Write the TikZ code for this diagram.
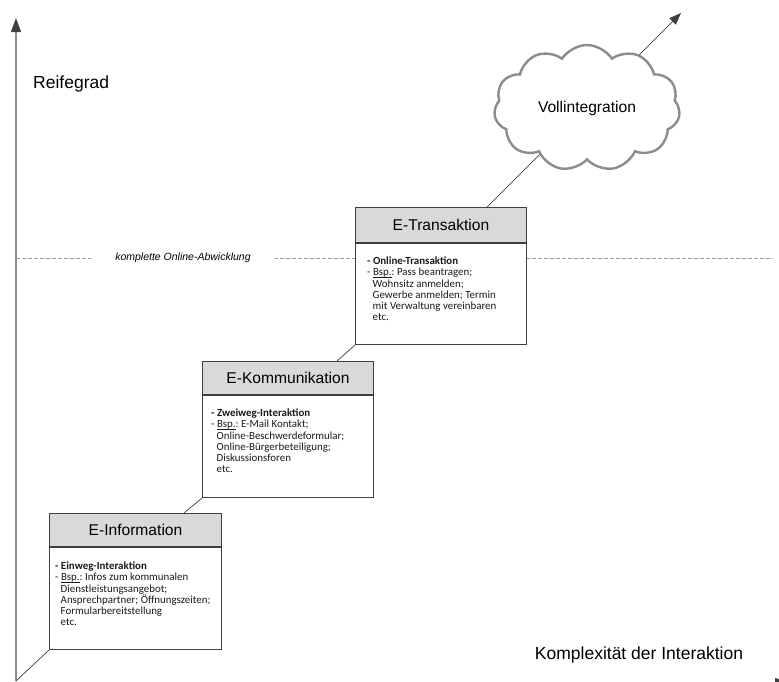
\documentclass[tikz,border=0pt]{standalone}
\usepackage{fontspec}
\setmainfont{Liberation Sans}
\newfontfamily\calfont{Carlito}
\usetikzlibrary{arrows.meta,shapes.symbols}
\definecolor{edge}{HTML}{404040}
\definecolor{hdrfill}{HTML}{D9D9D9}
\definecolor{axisgray}{HTML}{8C8C8C}
\definecolor{cloudgray}{HTML}{8C8C8C}
\definecolor{dashgray}{HTML}{9A9A9A}
\definecolor{bodyink}{HTML}{1A1A1A}
\pgfdeclarelayer{bg}
\pgfsetlayers{bg,main}
\tikzset{
  hdr/.style={draw=edge, line width=1pt, fill=hdrfill, anchor=north west, inner sep=0pt,
    font=\fontsize{15.6}{18}\selectfont},
  bodybox/.style={draw=edge, line width=1pt, fill=white, anchor=north west, inner sep=0pt},
  bodytext/.style={anchor=north west, inner sep=0pt, align=left, text=bodyink,
    font=\calfont\frenchspacing\fontsize{10.9}{11.1}\selectfont},
  axisline/.style={draw=axisgray, line width=1.3pt},
  conn/.style={draw=edge, line width=0.7pt},
  dashline/.style={draw=dashgray, line width=0.7pt, dash pattern=on 4pt off 2pt},
  biglabel/.style={font=\fontsize{17.5}{20}\selectfont},
}
\newcommand{\ind}{\hspace*{5.5pt}}
\newcommand{\bspul}[1]{\setbox0\hbox{#1}\rlap{\color{bodyink}\rule[-1.3pt]{\wd0}{0.5pt}}#1}
\begin{document}
\begin{tikzpicture}[x=1pt,y=-1pt]
\useasboundingbox (0,0) rectangle (779,681);

% boxes
\node[hdr, minimum width=172pt, minimum height=33pt] (infoH) at (49,513) {E-Information};
\node[bodybox, minimum width=172pt, minimum height=102pt] (infoB) at (infoH.south west) {};
\node[bodytext] (infoT) at ([xshift=6pt,yshift=-15pt]infoB.north west)
 {\textbf{- Einweg-Interaktion}\\
  - \bspul{Bsp.}: Infos zum kommunalen\\
  \ind Dienstleistungsangebot;\\
  \ind Ansprechpartner; Öffnungszeiten;\\
  \ind Formularbereitstellung\\
  \ind etc.};

\node[hdr, minimum width=171pt, minimum height=33pt] (kommH) at (202,361) {E-Kommunikation};
\node[bodybox, minimum width=171pt, minimum height=102pt] (kommB) at (kommH.south west) {};
\node[bodytext] (kommT) at ([xshift=9pt,yshift=-14pt]kommB.north west)
 {\textbf{- Zweiweg-Interaktion}\\
  - \bspul{Bsp.}: E-Mail Kontakt;\\
  \ind Online-Beschwerdeformular;\\
  \ind Online-Bürgerbeteiligung;\\
  \ind Diskussionsforen\\
  \ind etc.};

\node[hdr, minimum width=171pt, minimum height=35pt] (transH) at (355,207) {E-Transaktion};
\node[bodybox, minimum width=171pt, minimum height=101pt] (transB) at (transH.south west) {};
\node[bodytext] (transT) at ([xshift=12pt,yshift=-14pt]transB.north west)
 {\textbf{- Online-Transaktion}\\
  - \bspul{Bsp.}: Pass beantragen;\\
  \ind Wohnsitz anmelden;\\
  \ind Gewerbe anmelden; Termin\\
  \ind mit Verwaltung vereinbaren\\
  \ind etc.};

% cloud
\node[cloud, cloud puffs=11, cloud puff arc=115, cloud ignores aspect, draw=cloudgray, line width=2.4pt,
  fill=white, minimum width=186pt, minimum height=126pt, inner sep=0pt,
  font=\fontsize{15.6}{18}\selectfont] (cloud) at (587,108) {Vollintegration};

% labels
\node[biglabel, anchor=west, inner sep=0pt] (reife) at (33,84) {Reifegrad};
\node[biglabel, inner sep=0pt] (komp) at (639,655) {Komplexität der Interaktion};
\node[fill=white, inner xsep=24pt, inner ysep=2pt, font=\itshape\fontsize{10.5}{12}\selectfont] (dl) at (183,258) {komplette Online-Abwicklung};

% coordinates
\coordinate (origin) at (16,681);
\coordinate (ytip) at (16,18);
\coordinate (xstart) at (16,683);
\coordinate (xtip) at (789,683);
\coordinate (dstart) at (16,258);
\coordinate (dend) at (773,258);
\coordinate (k2i) at (184,513);
\coordinate (t2k) at (337,361);
\coordinate (tstart) at (487,207);
\coordinate (ctip) at (681,13);

\begin{pgfonlayer}{bg}
\draw[dashline] (dstart) -- (dend);
\draw[axisline, -{Triangle[length=14pt,width=10pt,color=edge]}] (origin) -- (ytip);
\draw[axisline, -{Triangle[length=14pt,width=10pt,color=edge]}] (xstart) -- (xtip);
\draw[conn] (infoB.south west) -- (origin);
\draw[conn] (kommB.south west) -- (k2i);
\draw[conn] (transB.south west) -- (t2k);
\draw[conn, -{Triangle[length=12pt,width=9pt,color=edge]}] (tstart) -- (ctip);
\end{pgfonlayer}
\end{tikzpicture}
\end{document}
